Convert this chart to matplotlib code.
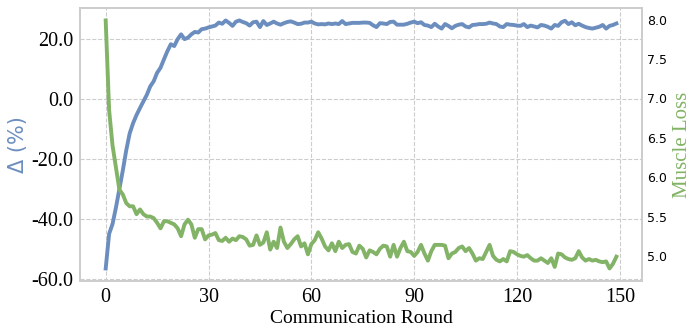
import numpy as np
import matplotlib
matplotlib.use("Agg")
import matplotlib.pyplot as plt

# communication rounds 0..149
rounds = np.arange(150)

delta = [
    -56.4, -44.9, -41.6, -36.1, -29.9, -23.8, -17.1, -11.5, -8.1, -5.4,
    -3.1, -0.9, 1.3, 4.1, 5.8, 8.6, 10.3, 13.1, 15.8, 18.1,
    17.5, 19.8, 21.4, 19.8, 20.3, 21.4, 22.2, 22.0, 23.1, 23.3,
    23.7, 24.0, 24.3, 25.3, 24.9, 26.0, 25.2, 24.2, 25.6, 26.0,
    25.5, 25.1, 24.3, 25.4, 25.6, 23.8, 25.8, 24.5, 25.0, 25.6,
    25.0, 24.6, 25.1, 25.5, 25.7, 25.3, 24.8, 24.9, 25.3, 25.3,
    25.6, 25.0, 24.7, 24.8, 24.7, 25.0, 24.8, 25.0, 24.8, 25.8,
    24.8, 25.0, 25.2, 25.2, 25.2, 25.3, 25.3, 25.2, 24.4, 23.8,
    25.1, 25.0, 24.8, 25.5, 25.6, 24.6, 24.6, 24.6, 24.9, 25.3,
    25.6, 25.1, 25.4, 24.5, 24.3, 23.8, 24.9, 24.0, 23.3, 24.8,
    24.2, 23.4, 24.2, 24.6, 24.8, 24.0, 23.7, 24.5, 24.6, 24.8,
    24.8, 24.9, 25.3, 25.0, 24.8, 24.0, 23.8, 24.8, 24.6, 24.5,
    24.3, 24.2, 24.8, 23.8, 24.3, 24.0, 23.7, 24.5, 24.3, 23.9,
    23.3, 24.5, 24.2, 25.4, 25.9, 24.8, 25.4, 24.4, 24.9, 24.3,
    23.8, 23.5, 23.3, 23.6, 23.9, 24.5, 23.3, 24.2, 24.5, 25.0,
]

muscle_loss = [
    7.99, 6.85, 6.40, 6.12, 5.84, 5.78, 5.67, 5.63, 5.63, 5.53,
    5.59, 5.53, 5.50, 5.50, 5.48, 5.42, 5.35, 5.44, 5.44, 5.42,
    5.40, 5.35, 5.25, 5.40, 5.46, 5.40, 5.23, 5.34, 5.34, 5.21,
    5.26, 5.27, 5.29, 5.20, 5.19, 5.23, 5.18, 5.22, 5.20, 5.25,
    5.24, 5.21, 5.13, 5.14, 5.26, 5.14, 5.17, 5.30, 5.08, 5.18,
    5.10, 5.36, 5.18, 5.10, 5.15, 5.21, 5.25, 5.12, 5.16, 5.02,
    5.15, 5.20, 5.30, 5.22, 5.12, 5.07, 5.16, 5.06, 5.18, 5.10,
    5.14, 5.15, 5.05, 5.03, 5.13, 5.09, 4.98, 5.07, 5.05, 5.02,
    5.09, 5.13, 5.12, 4.99, 5.14, 4.99, 5.10, 5.18, 5.06, 5.05,
    5.00, 5.05, 5.14, 5.03, 4.94, 5.06, 5.14, 5.14, 5.14, 5.13,
    4.97, 5.03, 5.05, 5.10, 5.12, 5.06, 5.10, 5.03, 4.94, 4.97,
    4.96, 5.05, 5.14, 5.00, 4.95, 4.93, 4.96, 4.93, 5.06, 5.05,
    5.02, 5.00, 4.99, 5.01, 4.97, 4.94, 4.94, 4.97, 4.94, 4.91,
    4.97, 4.86, 5.03, 5.02, 4.98, 4.96, 4.95, 4.97, 5.06, 4.98,
    4.94, 4.96, 4.94, 4.95, 4.93, 4.92, 4.93, 4.84, 4.90, 4.99,
]

x_ticks = [0, 30, 60, 90, 120, 150]
left_ticks = [-60, -40, -20, 0, 20]
right_ticks = [5.0, 5.5, 6.0, 6.5, 7.0, 7.5, 8.0]
blue = "#6c8ebf"
green = "#82b366"

plt.rcParams["font.family"] = "Liberation Serif"

fig = plt.figure(figsize=(6.97, 3.36), dpi=100)
ax1 = fig.add_axes([0.115, 0.164, 0.806, 0.812])
ax2 = ax1.twinx()

ax1.plot(rounds, delta, color=blue, lw=2.8)
ax2.plot(rounds, muscle_loss, color=green, lw=2.8)

ax1.set_xticks(x_ticks)
ax1.set_yticks(left_ticks)
ax1.set_yticklabels(["%.1f" % v for v in left_ticks])
ax1.tick_params(axis="both", length=0, labelsize=14.5, pad=5)
ax1.grid(True, ls="--", color="#cccccc", lw=0.8)
ax1.set_axisbelow(True)

ax2.set_yticks(right_ticks)
ax2.set_yticklabels(["%.1f" % v for v in right_ticks], family="DejaVu Sans")
ax2.tick_params(axis="y", length=0, labelsize=9, pad=4)

ax1.set_xlabel("Communication Round", fontsize=14, labelpad=2)
ax1.set_ylabel("Δ (%)", color=blue, fontsize=15, family="DejaVu Sans", labelpad=2)
ax2.set_ylabel("Muscle Loss", color=green, fontsize=15, labelpad=4)

for ax in (ax1, ax2):
    for sp in ax.spines.values():
        sp.set_color("#cccccc")
        sp.set_linewidth(1.2)

fig.savefig("out.png", dpi=100)
